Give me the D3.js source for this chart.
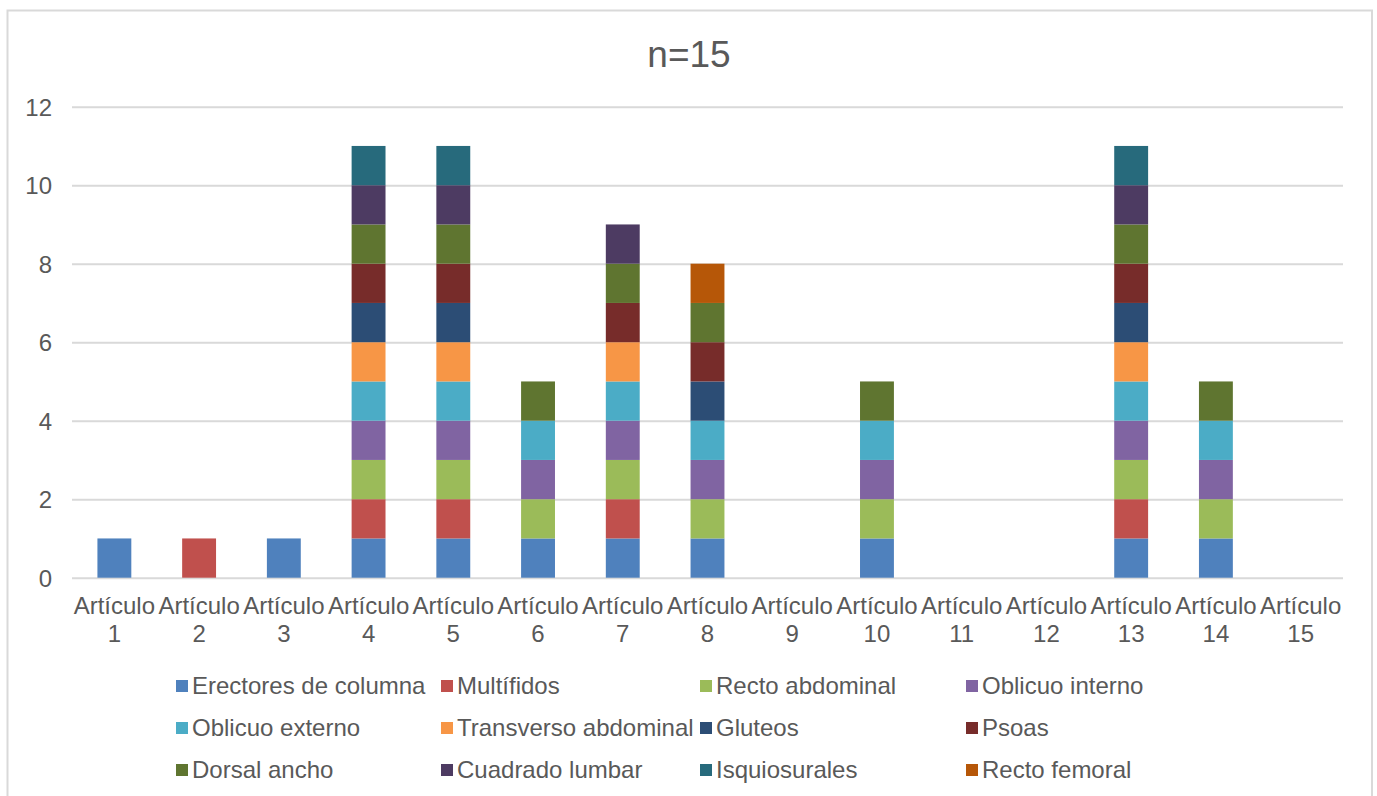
<!DOCTYPE html>
<html>
<head>
<meta charset="utf-8">
<script src="https://cdn.jsdelivr.net/npm/d3@7"></script>
<style>
  html, body { margin: 0; padding: 0; background: #fff; }
  svg { display: block; font-family: "Liberation Sans", Arial, sans-serif; }
</style>
</head>
<body>
<svg id="chart" width="1377" height="796"></svg>
<script>
// Categories (articles reviewed)
const categories = ["1","2","3","4","5","6","7","8","9","10","11","12","13","14","15"];

// One array per muscle group: 1 = muscle studied in that article
const erectores      = [1,0,1,1,1,1,1,1,0,1,0,0,1,1,0];
const multifidos     = [0,1,0,1,1,0,1,0,0,0,0,0,1,0,0];
const rectoAbdominal = [0,0,0,1,1,1,1,1,0,1,0,0,1,1,0];
const oblicuoInterno = [0,0,0,1,1,1,1,1,0,1,0,0,1,1,0];
const oblicuoExterno = [0,0,0,1,1,1,1,1,0,1,0,0,1,1,0];
const transverso     = [0,0,0,1,1,0,1,0,0,0,0,0,1,0,0];
const gluteos        = [0,0,0,1,1,0,0,1,0,0,0,0,1,0,0];
const psoas          = [0,0,0,1,1,0,1,1,0,0,0,0,1,0,0];
const dorsalAncho    = [0,0,0,1,1,1,1,1,0,1,0,0,1,1,0];
const cuadrado       = [0,0,0,1,1,0,1,0,0,0,0,0,1,0,0];
const isquiosurales  = [0,0,0,1,1,0,0,0,0,0,0,0,1,0,0];
const rectoFemoral   = [0,0,0,0,0,0,0,1,0,0,0,0,0,0,0];

const seriesNames = ["Erectores de columna","Multífidos","Recto abdominal","Oblicuo interno",
  "Oblicuo externo","Transverso abdominal","Gluteos","Psoas",
  "Dorsal ancho","Cuadrado lumbar","Isquiosurales","Recto femoral"];
const seriesValues = [erectores, multifidos, rectoAbdominal, oblicuoInterno,
  oblicuoExterno, transverso, gluteos, psoas,
  dorsalAncho, cuadrado, isquiosurales, rectoFemoral];
const seriesColors = ["#4F81BD","#C0504D","#9BBB59","#8064A2",
  "#4BACC6","#F79646","#2C4D75","#772C2A",
  "#5F7530","#4D3B62","#276A7C","#B65708"];

const yTicks = [0,2,4,6,8,10,12];
const title = "n=15";
const catPrefix = "Artículo";

const svg = d3.select("#chart");
const textColor = "#595959";
const gridColor = "#d9d9d9";
const fontSize = "24px";

// outer chart frame
svg.append("rect")
  .attr("x", 7.5).attr("y", 10.5)
  .attr("width", 1364.5).attr("height", 820)
  .attr("fill", "#fff").attr("stroke", gridColor).attr("stroke-width", 2);

const plot = { left: 72, right: 1343, top: 106.7, bottom: 577.7 };

const x = d3.scaleBand().domain(categories).range([plot.left, plot.right]).paddingInner(0.6).paddingOuter(0.3);
const xc = d3.scaleBand().domain(categories).range([plot.left, plot.right]);
const y = d3.scaleLinear().domain([0, 12]).range([plot.bottom, plot.top]);

// title
svg.append("text")
  .attr("x", 689).attr("y", 67)
  .attr("text-anchor", "middle")
  .attr("fill", textColor)
  .style("font-size", "37px")
  .text(title);

// y gridlines + labels
const yAxis = d3.axisLeft(y).tickValues(yTicks).tickSize(-(plot.right - plot.left)).tickPadding(20);
const gy = svg.append("g").attr("transform", `translate(${plot.left},0)`).call(yAxis);
gy.select(".domain").remove();
gy.selectAll(".tick line").attr("stroke", gridColor).attr("stroke-width", 2);
gy.selectAll(".tick text").attr("fill", textColor).style("font-size", fontSize)
  .attr("x", -20).attr("dy", "0.35em");

// stacked data
const rows = categories.map((c, i) => {
  const r = { cat: c };
  seriesNames.forEach((s, k) => { r[s] = seriesValues[k][i]; });
  return r;
});
const stack = d3.stack().keys(seriesNames)(rows);
const color = d3.scaleOrdinal().domain(seriesNames).range(seriesColors);

svg.append("g").selectAll("g").data(stack).join("g")
  .attr("fill", d => color(d.key))
  .selectAll("rect").data(d => d.filter(p => p[1] - p[0] > 0)).join("rect")
  .attr("x", d => x(d.data.cat))
  .attr("width", x.bandwidth())
  .attr("y", d => y(d[1]))
  .attr("height", d => y(d[0]) - y(d[1]));

// x-axis labels (two lines)
const xl = svg.append("g");
categories.forEach(c => {
  const cx = xc(c) + xc.bandwidth() / 2;
  const t = xl.append("text")
    .attr("text-anchor", "middle")
    .attr("fill", textColor)
    .style("font-size", fontSize);
  t.append("tspan").attr("x", cx).attr("y", 614).text(catPrefix);
  t.append("tspan").attr("x", cx).attr("y", 642).text(c);
});

// legend: 4 columns x 3 rows
const legColX = [176, 441, 700, 966];
const legRowY = [686, 728, 770];
const leg = svg.append("g");
seriesNames.forEach((s, k) => {
  const col = k % 4, row = Math.floor(k / 4);
  const g = leg.append("g").attr("transform", `translate(${legColX[col]},${legRowY[row]})`);
  g.append("rect").attr("x", 0).attr("y", -6).attr("width", 12).attr("height", 12).attr("fill", seriesColors[k]);
  g.append("text").attr("x", 16).attr("y", 0).attr("dy", "0.35em")
    .attr("fill", textColor).style("font-size", fontSize).text(s);
});
</script>
</body>
</html>
